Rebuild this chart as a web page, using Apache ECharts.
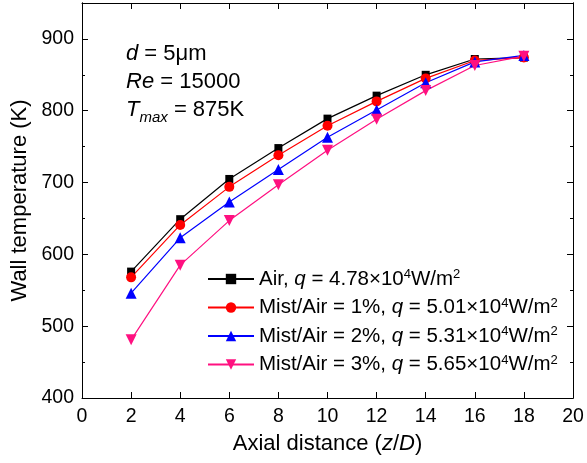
<!DOCTYPE html>
<html>
<head>
<meta charset="utf-8">
<script src="https://cdn.jsdelivr.net/npm/echarts@6/dist/echarts.min.js"></script>
<style>
  html, body { margin: 0; padding: 0; background: #fff; }
  #chart { width: 587px; height: 463px; }
</style>
</head>
<body>
<div id="chart"></div>
<script>
// axial positions z/D
const zPos = [2, 4, 6, 8, 10, 12, 14, 16, 18];
// wall temperature (K)
const airT = [576, 649, 705, 748, 789, 821, 850, 872, 874];
const mist1T = [568, 641, 694, 738, 779, 813, 845, 870, 874];
const mist2T = [546, 623, 673, 718, 763, 801, 839, 868, 877];
const mist3T = [481, 585, 647, 697, 745, 788, 828, 863, 876];

const seriesNames = ['Air', 'Mist/Air = 1%', 'Mist/Air = 2%', 'Mist/Air = 3%'];
const heatFlux = ['4.78', '5.01', '5.31', '5.65'];

const FONT = 'Liberation Sans, Arial, sans-serif';
const pair = (ys) => zPos.map((z, i) => [z, ys[i]]);
const invTri = 'path://M0,0 L10,0 L5,9 Z';

const chart = echarts.init(document.getElementById('chart'));

const mkSeries = (name, ys, color, symbol, size) => ({
  name: name,
  type: 'line',
  data: pair(ys),
  symbol: symbol,
  symbolSize: size,
  lineStyle: { color: color, width: 1.2 },
  itemStyle: { color: color },
  xAxisIndex: 0,
  yAxisIndex: 0
});

const yBase = {
  type: 'value', min: 400, max: 950,
  axisLine: { show: true, lineStyle: { color: '#000', width: 1 } },
  splitLine: { show: false }
};

chart.setOption({
  animation: false,
  backgroundColor: '#fff',
  grid: { left: 82, right: 14, top: 3, bottom: 65, outerBoundsMode: 'none' },
  xAxis: [
    {
      type: 'value', min: 0, max: 20, interval: 2,
      name: '{t|Axial distance (}{i|z}{t|/}{i|D}{t|)}',
      nameLocation: 'middle', nameGap: 35,
      nameTextStyle: {
        rich: {
          t: { fontFamily: FONT, fontSize: 22, color: '#000' },
          i: { fontFamily: FONT, fontSize: 22, color: '#000', fontStyle: 'italic' }
        }
      },
      axisLine: { lineStyle: { color: '#000', width: 1 } },
      axisTick: { inside: true, length: 6, lineStyle: { color: '#000' } },
      axisLabel: { color: '#000', fontFamily: FONT, fontSize: 19.5, margin: 9 },
      splitLine: { show: false }
    },
    {
      type: 'value', min: 0, max: 20, interval: 2, position: 'top',
      axisLine: { lineStyle: { color: '#000', width: 1 } },
      axisTick: { inside: true, length: 6, lineStyle: { color: '#000' } },
      axisLabel: { show: false },
      splitLine: { show: false }
    }
  ],
  yAxis: [
    Object.assign({}, yBase, {
      interval: 100, position: 'left',
      name: 'Wall temperature (K)',
      nameLocation: 'middle', nameGap: 44,
      nameTextStyle: { fontFamily: FONT, fontSize: 22, color: '#000' },
      axisTick: { inside: true, length: 6, lineStyle: { color: '#000' } },
      axisLabel: {
        color: '#000', fontFamily: FONT, fontSize: 19.5, margin: 8,
        formatter: (v) => (v % 100 === 0 ? String(v) : '')
      }
    }),
    Object.assign({}, yBase, {
      interval: 50, position: 'left',
      axisTick: { inside: true, length: 3, lineStyle: { color: '#000' } },
      axisLabel: { show: false }
    }),
    Object.assign({}, yBase, {
      interval: 100, position: 'right',
      axisTick: { inside: true, length: 6, lineStyle: { color: '#000' } },
      axisLabel: { show: false }
    }),
    Object.assign({}, yBase, {
      interval: 50, position: 'right',
      axisTick: { inside: true, length: 3, lineStyle: { color: '#000' } },
      axisLabel: { show: false }
    })
  ],
  legend: {
    orient: 'vertical',
    left: 202, top: 263,
    itemWidth: 46, itemHeight: 13, itemGap: 7,
    data: seriesNames,
    formatter: (name) => {
      const k = seriesNames.indexOf(name);
      return '{t|' + name + ', }{i|q}{t| = ' + heatFlux[k] + '×10}{s|4}{t|W/m}{s|2}';
    },
    textStyle: {
      rich: {
        t: { fontFamily: FONT, fontSize: 20.5, color: '#000', lineHeight: 22 },
        i: { fontFamily: FONT, fontSize: 20.5, color: '#000', fontStyle: 'italic', lineHeight: 22 },
        s: { fontFamily: FONT, fontSize: 13, color: '#000', lineHeight: 13, verticalAlign: 'top' }
      }
    }
  },
  graphic: [
    {
      type: 'text', left: 126, top: 43,
      style: {
        text: '{i|d}{t| = 5μm}',
        rich: {
          t: { fontFamily: FONT, fontSize: 22, fill: '#000', lineHeight: 24 },
          i: { fontFamily: FONT, fontSize: 22, fill: '#000', fontStyle: 'italic', lineHeight: 24 }
        }
      }
    },
    {
      type: 'text', left: 126, top: 71,
      style: {
        text: '{i|Re}{t| = 15000}',
        rich: {
          t: { fontFamily: FONT, fontSize: 22, fill: '#000', lineHeight: 24 },
          i: { fontFamily: FONT, fontSize: 22, fill: '#000', fontStyle: 'italic', lineHeight: 24 }
        }
      }
    },
    {
      type: 'text', left: 126, top: 99,
      style: {
        text: '{i|T}{b|max}{t| = 875K}',
        rich: {
          t: { fontFamily: FONT, fontSize: 22, fill: '#000', lineHeight: 26, verticalAlign: 'top' },
          i: { fontFamily: FONT, fontSize: 22, fill: '#000', fontStyle: 'italic', lineHeight: 26, verticalAlign: 'top' },
          b: { fontFamily: FONT, fontSize: 15, fill: '#000', fontStyle: 'italic', lineHeight: 15, verticalAlign: 'bottom' }
        }
      }
    }
  ],
  series: [
    mkSeries(seriesNames[0], airT, '#000000', 'rect', 8),
    mkSeries(seriesNames[1], mist1T, '#ff0000', 'circle', 10),
    mkSeries(seriesNames[2], mist2T, '#0000ff', 'triangle', 11),
    mkSeries(seriesNames[3], mist3T, '#ff1080', invTri, 11)
  ]
});
</script>
</body>
</html>
